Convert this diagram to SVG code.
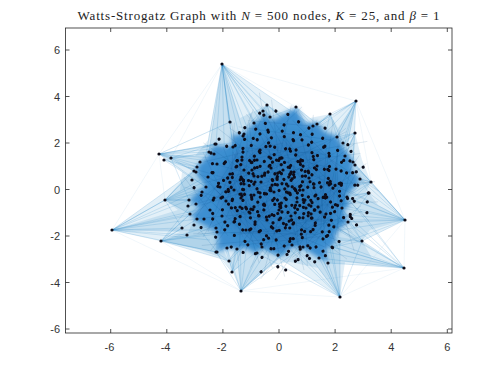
<svg xmlns="http://www.w3.org/2000/svg" xmlns:xlink="http://www.w3.org/1999/xlink" width="500" height="375" viewBox="0 0 500 375">
<style>
.ax{fill:none;stroke:#262626;stroke-width:0.8}
.tk{fill:none;stroke:#262626;stroke-width:0.8}
.lbl{font-family:"Liberation Sans",Arial,sans-serif;font-size:11px;fill:#333}
.ttl{font-family:"Liberation Serif","Times New Roman",serif;font-size:13px;fill:#222}
.e{fill:none;stroke:#0072BD;stroke-opacity:0.3;stroke-width:0.5}
.ef{fill:none;stroke:#0072BD;stroke-opacity:0.12;stroke-width:0.5}
.f{fill:#0072BD;fill-opacity:0.11;stroke:none}
.tx{fill:none;stroke:#0a4a85;stroke-opacity:0.22;stroke-width:0.5}
.n{fill:#0d0d1a}
</style>
<defs>
<filter id="blur" x="-20%" y="-20%" width="140%" height="140%"><feGaussianBlur stdDeviation="7"/></filter>
<filter id="blur2" x="-20%" y="-20%" width="140%" height="140%"><feGaussianBlur stdDeviation="2.5"/></filter>
<g id="clA" class="n">
<circle cx="-35" cy="-20" r="1.6"/><circle cx="-28" cy="5" r="1.6"/><circle cx="-30" cy="22" r="1.6"/><circle cx="-22" cy="-30" r="1.6"/><circle cx="-18" cy="-8" r="1.6"/><circle cx="-15" cy="14" r="1.6"/><circle cx="-12" cy="30" r="1.6"/><circle cx="-8" cy="-22" r="1.6"/><circle cx="-5" cy="2" r="1.6"/><circle cx="-2" cy="-12" r="1.6"/><circle cx="0" cy="20" r="1.6"/><circle cx="3" cy="-32" r="1.6"/><circle cx="6" cy="8" r="1.6"/><circle cx="9" cy="-4" r="1.6"/><circle cx="12" cy="26" r="1.6"/><circle cx="15" cy="-18" r="1.6"/><circle cx="18" cy="12" r="1.6"/><circle cx="21" cy="-28" r="1.6"/><circle cx="24" cy="0" r="1.6"/><circle cx="27" cy="18" r="1.6"/><circle cx="30" cy="-12" r="1.6"/><circle cx="33" cy="28" r="1.6"/><circle cx="36" cy="6" r="1.6"/><circle cx="38" cy="-24" r="1.6"/><circle cx="-25" cy="-14" r="1.6"/><circle cx="-10" cy="-33" r="1.6"/><circle cx="14" cy="34" r="1.6"/><circle cx="-38" cy="8" r="1.6"/><circle cx="-20" cy="26" r="1.6"/><circle cx="4" cy="-20" r="1.6"/>
</g>
<g id="clB" class="n">
<circle cx="-30" cy="-5" r="1.6"/><circle cx="-26" cy="18" r="1.6"/><circle cx="-20" cy="-24" r="1.6"/><circle cx="-14" cy="4" r="1.6"/><circle cx="-9" cy="22" r="1.6"/><circle cx="-4" cy="-14" r="1.6"/><circle cx="1" cy="10" r="1.6"/><circle cx="5" cy="-26" r="1.6"/><circle cx="8" cy="28" r="1.6"/><circle cx="11" cy="-6" r="1.6"/><circle cx="16" cy="16" r="1.6"/><circle cx="19" cy="-20" r="1.6"/><circle cx="23" cy="6" r="1.6"/><circle cx="28" cy="-10" r="1.6"/><circle cx="31" cy="20" r="1.6"/><circle cx="-33" cy="14" r="1.6"/><circle cx="-17" cy="-34" r="1.6"/><circle cx="2" cy="-2" r="1.6"/><circle cx="13" cy="2" r="1.6"/><circle cx="-6" cy="33" r="1.6"/>
</g>
<path id="tex" class="tx" d="M-45,-10L40,20M-30,-35L25,38M-40,25L45,-15M-10,-40L15,42M-45,5L42,-30M-20,30L38,-28M-35,-25L44,10M0,-44L-25,40M30,35L-42,-12M20,-40L-5,44M-44,-35L10,30M45,25L-30,-20M-40,-5L30,-38M-15,44L44,0"/>
</defs>
<rect width="500" height="375" fill="#fff"/>
<text class="ttl" x="258.5" y="19.5" text-anchor="middle" textLength="362" lengthAdjust="spacing">Watts-Strogatz Graph with <tspan font-style="italic">N</tspan> = 500 nodes, <tspan font-style="italic">K</tspan> = 25, and <tspan font-style="italic">β</tspan> = 1</text>
<g id="connectors">
<polygon fill="#0072BD" fill-opacity="0.12" points="267,105 284,114 296,107 310,118 330,114 338,128 356,101 348,145 355,133 362,160 371,182 366,192 369,193 378,205 405,220 370,230 362,241 372,258 404,268 345,262 340,297 318,268 290,262 272,265 241,291 238,268 232,272 222,258 200,250 161,241 180,232 112,230 178,210 165,200 180,190 182,172 159,154 195,156 208,140 222,64 240,118"/>
<polygon class="f" points="222,64 209,152 260,170 300,160 313,126"/>
<polygon class="f" points="356,101 300,140 310,190 353,162"/>
<polygon class="f" points="405,220 345,156 300,190 340,240 362,241"/>
<polygon class="f" points="404,268 362,241 300,230 319,258 328,263"/>
<polygon class="f" points="340,297 262,247 300,210 340,240"/>
<polygon class="f" points="241,291 229,261 250,220 300,240"/>
<polygon class="f" points="161,241 187,235 200,205 229,261"/>
<polygon class="f" points="112,230 194,171 240,200 216,252 161,241"/>
<polygon class="f" points="159,154 215,144 240,160 206,187 194,171"/>
<polygon class="f" points="165,200 194,171 230,180 190,214"/>
<path class="ef" d="M112,230L159,154M112,230L161,241M222,64L159,154M222,64L356,101M356,101L405,220M405,220L404,268M404,268L340,297M340,297L241,291M241,291L161,241M159,154L230,122M165,200L159,154M222,64L171,158M356,101L371,182M112,230L241,291M405,220L340,297M222,64L296,107M112,230L165,200M222,64L267,105M404,268L241,291"/>
<path class="e" d="M222,64L230,122M222,64L244,134M222,64L254,123M222,64L263,111M222,64L270,117M222,64L233,147M222,64L216,144M222,64L260,160M222,64L280,150M222,64L300,170M222,64L250,180M222,64L290,125M222,64L205,160M222,64L240,200M222,64L313,126M222,64L209,152M222,64L275,135M222,64L229,122M222,64L225,175M222,64L265,140"/>
<path class="e" d="M267,105L254,123M267,105L270,117M267,105L280,140M267,105L295,130M267,105L250,150M267,105L263,160M267,105L240,134M296,107L313,126M296,107L290,125M296,107L300,150M296,107L280,140M296,107L320,150M296,107L270,117M296,107L317,124"/>
<path class="e" d="M356,101L313,126M356,101L317,124M356,101L337,137M356,101L300,140M356,101L320,160M356,101L343,143M356,101L290,170M356,101L310,190M356,101L345,156M356,101L330,114M356,101L353,162M356,101L280,150M356,101L330,200M330,114L313,126M330,114L300,140M330,114L337,137M330,114L320,160M330,114L290,150M330,114L343,143"/>
<path class="e" d="M355,133L337,137M355,133L343,143M355,133L345,156M355,133L320,170M355,133L300,160M355,133L353,162M355,133L330,190M355,133L310,150M371,182L345,156M371,182L353,162M371,182L360,179M371,182L342,208M371,182L320,190M371,182L330,170M371,182L347,197M371,182L300,200M369,193L360,179M369,193L347,197M369,193L342,208M369,193L348,222M369,193L330,210M369,193L310,200"/>
<path class="e" d="M405,220L345,156M405,220L353,162M405,220L360,179M405,220L347,197M405,220L342,208M405,220L348,222M405,220L320,200M405,220L330,180M405,220L310,220M405,220L362,241M405,220L300,180M405,220L332,247M405,220L371,182M405,220L369,193M405,220L355,165M405,220L290,210M405,220L340,230"/>
<path class="e" d="M404,268L362,241M404,268L348,222M404,268L332,247M404,268L328,263M404,268L319,258M404,268L320,220M404,268L300,230M404,268L340,208M404,268L303,247M404,268L290,200M404,268L347,197M404,268L310,240M404,268L360,210"/>
<path class="e" d="M340,297L328,263M340,297L319,258M340,297L303,247M340,297L292,245M340,297L310,230M340,297L280,240M340,297L332,247M340,297L262,247M340,297L300,210M340,297L257,253M340,297L320,200M340,297L340,240M340,297L362,241M362,241L348,222M362,241L332,247M362,241L340,230M362,241L320,210M362,241L310,240M362,241L342,208"/>
<path class="e" d="M241,291L262,247M241,291L257,253M241,291L237,249M241,291L227,248M241,291L250,220M241,291L280,230M241,291L292,245M241,291L270,262M241,291L229,261M241,291L300,240M241,291L240,210M241,291L216,252M241,291L303,247M232,272L237,249M232,272L227,248M232,272L216,252M232,272L250,230M232,272L262,247M232,272L240,220M229,261L216,252M229,261L220,230M229,261L250,240M217,252L200,230M217,252L217,232M217,252L230,220M217,252L240,240"/>
<path class="e" d="M161,241L182,228M161,241L187,235M161,241L190,214M161,241L216,252M161,241L217,232M161,241L200,205M161,241L230,220M161,241L250,230M161,241L197,219M161,241L229,261M161,241L206,187"/>
<path class="e" d="M112,230L182,228M112,230L190,214M112,230L189,200M112,230L187,235M112,230L197,219M112,230L165,200M112,230L206,187M112,230L220,210M112,230L240,200M112,230L216,252M112,230L194,171M112,230L230,230M112,230L210,240M112,230L200,180"/>
<path class="e" d="M165,200L189,200M165,200L194,171M165,200L197,167M165,200L206,187M165,200L190,214M165,200L220,190M165,200L230,170M165,200L250,200M165,200L209,152M165,200L182,228"/>
<path class="e" d="M159,154L209,152M159,154L215,144M159,154L197,167M159,154L194,171M159,154L216,144M159,154L233,147M159,154L220,170M159,154L240,160M159,154L206,187M159,154L250,140M159,154L230,122M159,154L270,170M164,160L209,152M164,160L197,167M164,160L230,180M164,160L206,187M171,158L215,144M171,158L240,150M171,158L194,171M171,158L189,200"/>
<polygon fill="#3d8fd1" filter="url(#blur2)" points="263,111 272,120 296,108 305,124 317,122 325,132 337,136 342,145 353,160 352,170 361,180 352,190 346,196 350,205 343,210 348,222 338,230 333,246 325,250 328,262 315,256 303,248 292,246 282,256 270,252 262,248 256,254 245,248 237,250 228,248 217,252 218,240 216,232 198,222 190,215 200,208 189,200 200,190 206,186 198,176 196,167 208,156 214,145 225,146 232,146 232,135 244,134 252,124 262,118"/>
<polygon fill="#3d8fd1" points="270,128 300,128 328,145 345,170 345,200 338,225 318,244 285,246 255,242 232,232 212,212 208,185 215,160 240,140"/>
<polygon fill="#1f6db3" fill-opacity="0.55" filter="url(#blur)" points="279,135 305,140 330,158 342,185 335,215 315,238 285,248 255,240 228,222 218,195 225,165 250,145"/>
<use xlink:href="#tex" transform="translate(279,190)"/>
<use xlink:href="#tex" transform="translate(245,165) rotate(60)"/>
<use xlink:href="#tex" transform="translate(315,162) rotate(120)"/>
<use xlink:href="#tex" transform="translate(243,220) rotate(200)"/>
<use xlink:href="#tex" transform="translate(318,222) rotate(290)"/>
<use xlink:href="#tex" transform="translate(280,145) rotate(30)"/>
<use xlink:href="#tex" transform="translate(282,232) rotate(150)"/>
<use xlink:href="#tex" transform="translate(228,192) rotate(90)"/>
<use xlink:href="#tex" transform="translate(332,192) rotate(250)"/>
</g>
<g id="nodes">
<use xlink:href="#clA" transform="translate(279,190)"/>
<use xlink:href="#clA" transform="translate(245,168) rotate(60)"/>
<use xlink:href="#clA" transform="translate(313,165) rotate(120)"/>
<use xlink:href="#clA" transform="translate(245,218) rotate(200)"/>
<use xlink:href="#clA" transform="translate(315,220) rotate(290)"/>
<use xlink:href="#clA" transform="translate(280,148) rotate(30)"/>
<use xlink:href="#clA" transform="translate(282,232) rotate(150)"/>
<use xlink:href="#clA" transform="translate(222,192) rotate(90)"/>
<use xlink:href="#clA" transform="translate(336,192) rotate(250)"/>
<use xlink:href="#clA" transform="translate(265,195) rotate(45)"/>
<use xlink:href="#clA" transform="translate(298,185) rotate(320)"/>
<use xlink:href="#clB" transform="translate(279,175) rotate(15)"/>
<use xlink:href="#clB" transform="translate(250,195) rotate(100)"/>
<use xlink:href="#clB" transform="translate(305,205) rotate(170)"/>
<use xlink:href="#clB" transform="translate(262,152) rotate(240)"/>
<use xlink:href="#clB" transform="translate(300,236) rotate(80)"/>
<use xlink:href="#clB" transform="translate(232,190) rotate(300)"/>
<use xlink:href="#clB" transform="translate(328,185) rotate(20)"/>
<g class="n">
<circle cx="222" cy="64" r="1.6"/><circle cx="267" cy="105" r="1.6"/><circle cx="296" cy="107" r="1.6"/><circle cx="356" cy="101" r="1.6"/><circle cx="330" cy="114" r="1.6"/><circle cx="355" cy="133" r="1.6"/><circle cx="371" cy="182" r="1.6"/><circle cx="369" cy="193" r="1.6"/><circle cx="405" cy="220" r="1.6"/><circle cx="404" cy="268" r="1.6"/><circle cx="340" cy="297" r="1.6"/><circle cx="362" cy="241" r="1.6"/><circle cx="241" cy="291" r="1.6"/><circle cx="232" cy="272" r="1.6"/><circle cx="229" cy="261" r="1.6"/><circle cx="217" cy="252" r="1.6"/><circle cx="161" cy="241" r="1.6"/><circle cx="112" cy="230" r="1.6"/><circle cx="165" cy="200" r="1.6"/><circle cx="159" cy="154" r="1.6"/><circle cx="164" cy="160" r="1.6"/><circle cx="171" cy="158" r="1.6"/><circle cx="230" cy="122" r="1.6"/>
<circle cx="215" cy="144" r="1.6"/><circle cx="209" cy="152" r="1.6"/><circle cx="197" cy="167" r="1.6"/><circle cx="194" cy="171" r="1.6"/><circle cx="189" cy="200" r="1.6"/><circle cx="190" cy="214" r="1.6"/><circle cx="197" cy="219" r="1.6"/><circle cx="182" cy="228" r="1.6"/><circle cx="187" cy="235" r="1.6"/><circle cx="206" cy="187" r="1.6"/><circle cx="217" cy="232" r="1.6"/>
<circle cx="313" cy="126" r="1.6"/><circle cx="317" cy="124" r="1.6"/><circle cx="337" cy="137" r="1.6"/><circle cx="343" cy="143" r="1.6"/><circle cx="345" cy="156" r="1.6"/><circle cx="353" cy="162" r="1.6"/><circle cx="355" cy="165" r="1.6"/><circle cx="360" cy="179" r="1.6"/>
<circle cx="348" cy="222" r="1.6"/><circle cx="342" cy="208" r="1.6"/><circle cx="332" cy="247" r="1.6"/><circle cx="328" cy="263" r="1.6"/><circle cx="319" cy="258" r="1.6"/><circle cx="303" cy="247" r="1.6"/><circle cx="347" cy="197" r="1.6"/>
<circle cx="216" cy="252" r="1.6"/><circle cx="227" cy="248" r="1.6"/><circle cx="237" cy="249" r="1.6"/><circle cx="257" cy="253" r="1.6"/><circle cx="262" cy="247" r="1.6"/><circle cx="292" cy="245" r="1.6"/>
<circle cx="263" cy="111" r="1.6"/><circle cx="270" cy="117" r="1.6"/><circle cx="254" cy="123" r="1.6"/><circle cx="244" cy="134" r="1.6"/><circle cx="216" cy="144" r="1.6"/><circle cx="233" cy="147" r="1.6"/>
</g>
</g>
<g id="axes">
<rect class="ax" x="65.5" y="28" width="386.5" height="305"/>
<path class="tk" d="M110.7,333v-4M166.8,333v-4M222.9,333v-4M279,333v-4M335.1,333v-4M391.2,333v-4M447.3,333v-4M110.7,28v4M166.8,28v4M222.9,28v4M279,28v4M335.1,28v4M391.2,28v4M447.3,28v4M65.5,50h4M65.5,96.5h4M65.5,143h4M65.5,189.5h4M65.5,236h4M65.5,282.5h4M65.5,329h4M452,50h-4M452,96.5h-4M452,143h-4M452,189.5h-4M452,236h-4M452,282.5h-4M452,329h-4"/>
<g class="lbl" text-anchor="end">
<text x="60" y="54">6</text><text x="60" y="100.5">4</text><text x="60" y="147">2</text><text x="60" y="193.5">0</text><text x="60" y="240">-2</text><text x="60" y="286.5">-4</text><text x="60" y="333">-6</text>
</g>
<g class="lbl" text-anchor="middle">
<text x="109.5" y="351">-6</text><text x="165.6" y="351">-4</text><text x="221.7" y="351">-2</text><text x="279" y="351">0</text><text x="335.1" y="351">2</text><text x="391.2" y="351">4</text><text x="447.3" y="351">6</text>
</g>
</g>
</svg>
